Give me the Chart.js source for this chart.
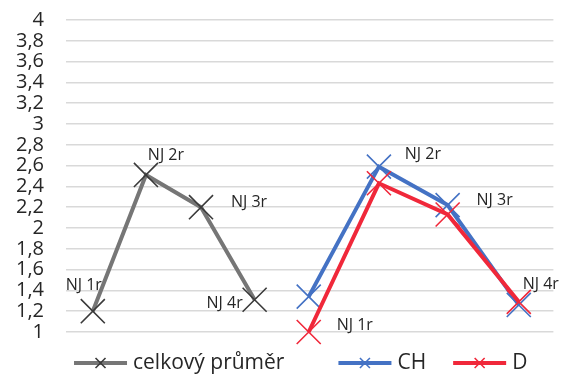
<!DOCTYPE html>
<html>
<head>
<meta charset="utf-8">
<script src="https://cdn.jsdelivr.net/npm/chart.js@4.4.1/dist/chart.umd.min.js"></script>
<style>
  html, body { margin: 0; padding: 0; background: #fff; }
  #wrap { width: 572px; height: 374px; }
</style>
</head>
<body>
<div id="wrap"><canvas id="chart"></canvas></div>
<script>
// point labels (school years)
const categories = ['NJ 1r', 'NJ 2r', 'NJ 3r', 'NJ 4r'];
const seriesNames = ['celkový průměr', 'CH', 'D'];

// horizontal placement of the two groups on a hidden 0..10 axis
const xLeft = [0.55, 1.64, 2.77, 3.87];
const xRight = [4.98, 6.42, 7.83, 9.29];

// values
const averageValues = [1.2, 2.51, 2.2, 1.31];
const chValues = [1.34, 2.59, 2.22, 1.26];
const dValues = [1.0, 2.43, 2.13, 1.29];

const yTickValues = [1, 1.2, 1.4, 1.6, 1.8, 2, 2.2, 2.4, 2.6, 2.8, 3, 3.2, 3.4, 3.6, 3.8, 4];

const FONT = '"Open Sans", Lato, sans-serif';
const TEXT = '#262626';

// where each point's label sits relative to the point (null = no label)
const labelOffsets = [
    [[-9, -26], [20, -20], [48, -5], [-30, 4]],
    [null, [44, -12], [47, -5], [22, -21]],
    [[46, -7], null, null, null]
];

function toPoints(xs, ys) {
    return xs.map((x, i) => ({ x: x, y: ys[i] }));
}

function makeSeries(label, xs, ys, color, markColor, order) {
    return {
        label: label,
        data: toPoints(xs, ys),
        showLine: true,
        clip: false,
        borderColor: color,
        backgroundColor: color,
        borderWidth: 4,
        pointStyle: 'crossRot',
        pointRadius: 17,
        pointHoverRadius: 17,
        pointBorderWidth: 1.6,
        pointBorderColor: markColor,
        order: order
    };
}

const pointLabels = {
    id: 'pointLabels',
    afterDatasetsDraw(chart) {
        const ctx = chart.ctx;
        ctx.save();
        ctx.font = '16px ' + FONT;
        ctx.fillStyle = TEXT;
        ctx.textAlign = 'center';
        ctx.textBaseline = 'middle';
        labelOffsets.forEach((offs, i) => {
            const meta = chart.getDatasetMeta(i);
            offs.forEach((o, j) => {
                if (!o) return;
                const el = meta.data[j];
                ctx.fillText(categories[j], el.x + o[0], el.y + o[1]);
            });
        });
        ctx.restore();
    }
};

// Excel style legend: line with a cross in the middle
const lineLegend = {
    id: 'lineLegend',
    afterDraw(chart) {
        const ctx = chart.ctx;
        const sample = 53, gap = 6, spacing = [54, 27];
        ctx.save();
        ctx.font = '21px ' + FONT;
        const items = chart.data.datasets.map(ds => ({ ds: ds, w: ctx.measureText(ds.label).width }));
        let total = 0;
        items.forEach((it, i) => { total += sample + gap + it.w + (i ? spacing[i - 1] : 0); });
        const area = chart.chartArea;
        let x = (area.left + area.right) / 2 - 9 - total / 2;
        const y = 363;
        items.forEach((it, i) => {
            ctx.strokeStyle = it.ds.borderColor;
            ctx.lineWidth = 4;
            ctx.beginPath();
            ctx.moveTo(x, y);
            ctx.lineTo(x + sample, y);
            ctx.stroke();
            const cx = x + sample / 2, r = 5;
            ctx.strokeStyle = it.ds.pointBorderColor;
            ctx.lineWidth = 1.6;
            ctx.beginPath();
            ctx.moveTo(cx - r, y - r); ctx.lineTo(cx + r, y + r);
            ctx.moveTo(cx - r, y + r); ctx.lineTo(cx + r, y - r);
            ctx.stroke();
            ctx.fillStyle = TEXT;
            ctx.textAlign = 'left';
            ctx.textBaseline = 'middle';
            ctx.fillText(it.ds.label, x + sample + gap, y);
            x += sample + gap + it.w + (spacing[i] || 0);
        });
        ctx.restore();
    }
};

new Chart(document.getElementById('chart'), {
    type: 'scatter',
    data: {
        datasets: [
            makeSeries(seriesNames[0], xLeft, averageValues, '#767676', '#3a3a3a', 0),
            makeSeries(seriesNames[1], xRight, chValues, '#4472c4', '#4472c4', 2),
            makeSeries(seriesNames[2], xRight, dValues, '#f0283a', '#f0283a', 1)
        ]
    },
    options: {
        responsive: true,
        maintainAspectRatio: false,
        animation: false,
        layout: { padding: { top: 20, right: 12, bottom: 42, left: 0 } },
        plugins: {
            legend: { display: false },
            tooltip: { enabled: false }
        },
        scales: {
            x: { type: 'linear', min: 0, max: 10, display: false },
            y: {
                min: 1,
                max: 4,
                afterBuildTicks: scale => { scale.ticks = yTickValues.map(v => ({ value: v })); },
                afterFit: scale => {
                    scale.width = 66;
                    scale.paddingTop = 0;
                    scale.paddingBottom = 0;
                },
                border: { display: false },
                grid: { color: '#d9d9d9', lineWidth: 1.5, drawTicks: false },
                ticks: {
                    autoSkip: false,
                    padding: 22,
                    color: TEXT,
                    font: { family: FONT, size: 20, lineHeight: 1 },
                    callback: v => String(Number(v.toFixed(1))).replace('.', ',')
                }
            }
        }
    },
    plugins: [pointLabels, lineLegend]
});
</script>
</body>
</html>
